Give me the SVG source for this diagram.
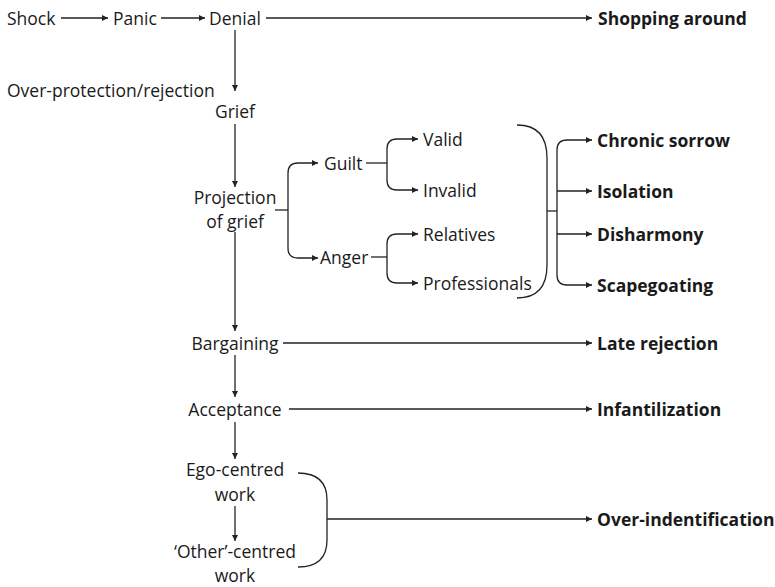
<svg xmlns="http://www.w3.org/2000/svg" width="775" height="587" viewBox="0 0 775 587">
<defs>
<marker id="ah" viewBox="0 0 10 10" refX="10" refY="5" markerWidth="8" markerHeight="6" markerUnits="userSpaceOnUse" orient="auto"><path d="M0,0 L10,5 L0,10 z" fill="#222"/></marker>
<style>
text{font-family:"Open Sans","Noto Sans","Liberation Sans",sans-serif;font-size:17.5px;fill:#1a1a1a;dominant-baseline:central}
.b{font-weight:bold}
.m{text-anchor:middle}
.c path,.c line{stroke:#222;stroke-width:1.3;fill:none}
.a{marker-end:url(#ah)}
</style>
</defs>
<rect width="775" height="587" fill="#fff"/>
<g class="c" id="connectors">
<line class="a" x1="61" y1="18" x2="108" y2="18"/>
<line class="a" x1="161" y1="18" x2="205" y2="18"/>
<line class="a" x1="266" y1="18" x2="592" y2="18"/>
<line class="a" x1="235" y1="30" x2="235" y2="91"/>
<line class="a" x1="235" y1="124" x2="235" y2="187"/>
<path d="M275,210 H288"/>
<path class="a" d="M288,210 V173 Q288,163 298,163 H318"/>
<path class="a" d="M288,210 V248 Q288,258 298,258 H318"/>
<path d="M366,163 H387"/>
<path class="a" d="M387,163 V149 Q387,139 397,139 H418"/>
<path class="a" d="M387,163 V180 Q387,190 397,190 H418"/>
<path d="M371,257 H387"/>
<path class="a" d="M387,257 V244 Q387,234 397,234 H418"/>
<path class="a" d="M387,257 V273 Q387,283 397,283 H418"/>
<path d="M517,125 Q547,125 547,158 V265 Q547,298 517,298"/>
<path d="M547,211 H557"/>
<path class="a" d="M557,211 V150 Q557,140 567,140 H592"/>
<path class="a" d="M557,191 H592"/>
<path class="a" d="M557,234 H592"/>
<path class="a" d="M557,211 V275 Q557,285 567,285 H592"/>
<line class="a" x1="235" y1="232" x2="235" y2="331"/>
<line class="a" x1="283" y1="343" x2="592" y2="343"/>
<line class="a" x1="235" y1="355" x2="235" y2="397"/>
<line class="a" x1="289" y1="409" x2="592" y2="409"/>
<line class="a" x1="235" y1="422" x2="235" y2="459"/>
<line class="a" x1="235" y1="506" x2="235" y2="541"/>
<path d="M298,473 Q327,473 327,500 V540 Q327,567 298,567"/>
<line class="a" x1="327" y1="519" x2="592" y2="519"/>
</g>
<g id="shock"><text x="7" y="18">Shock</text></g>
<g id="panic"><text x="113" y="18">Panic</text></g>
<g id="denial"><text x="209" y="18">Denial</text></g>
<g id="shopping"><text class="b" x="598" y="18">Shopping around</text></g>
<g id="overprotection"><text x="7" y="90">Over-protection/rejection</text></g>
<g id="grief"><text class="m" x="235" y="111">Grief</text></g>
<g id="projection"><text class="m" x="235" y="197">Projection</text><text class="m" x="235" y="221">of grief</text></g>
<g id="guilt"><text x="324" y="163">Guilt</text></g>
<g id="anger"><text x="320" y="257">Anger</text></g>
<g id="valid"><text x="423" y="139">Valid</text></g>
<g id="invalid"><text x="423" y="190">Invalid</text></g>
<g id="relatives"><text x="423" y="234">Relatives</text></g>
<g id="professionals"><text x="423" y="283">Professionals</text></g>
<g id="chronic"><text class="b" x="597" y="140">Chronic sorrow</text></g>
<g id="isolation"><text class="b" x="597" y="191">Isolation</text></g>
<g id="disharmony"><text class="b" x="597" y="234">Disharmony</text></g>
<g id="scapegoating"><text class="b" x="597" y="285">Scapegoating</text></g>
<g id="bargaining"><text class="m" x="235" y="343">Bargaining</text></g>
<g id="laterejection"><text class="b" x="597" y="343">Late rejection</text></g>
<g id="acceptance"><text class="m" x="235" y="409">Acceptance</text></g>
<g id="infantilization"><text class="b" x="597" y="409">Infantilization</text></g>
<g id="ego"><text class="m" x="235" y="469">Ego-centred</text><text class="m" x="235" y="494">work</text></g>
<g id="other"><text class="m" x="235" y="551">‘Other’-centred</text><text class="m" x="235" y="575">work</text></g>
<g id="overident"><text class="b" x="597" y="519">Over-indentification</text></g>
</svg>
